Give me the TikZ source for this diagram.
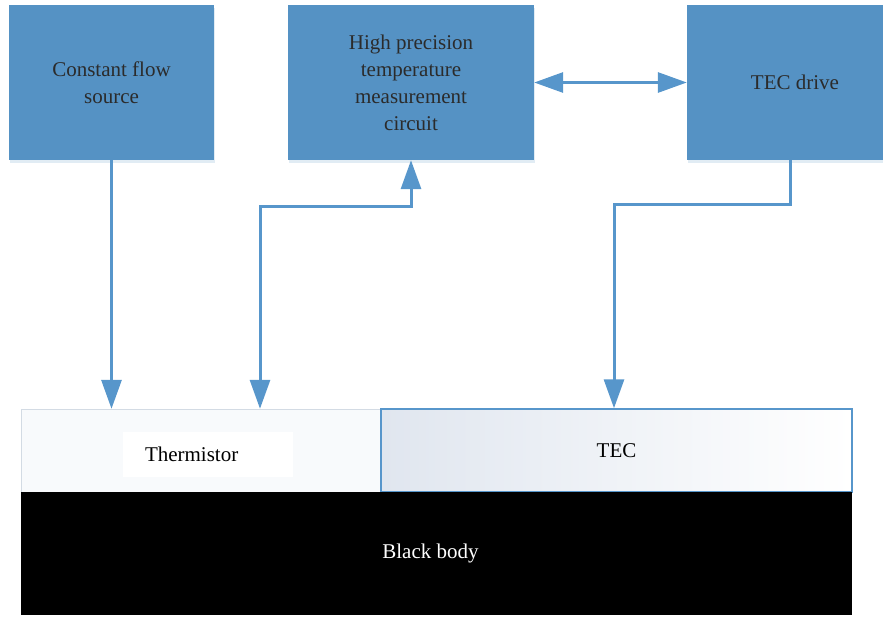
\documentclass[tikz,border=0pt]{standalone}
\usepackage{fontspec}
\setmainfont{Liberation Serif}
\usetikzlibrary{arrows.meta,shadows}
\definecolor{boxblue}{HTML}{5592C4}
\definecolor{lineblue}{HTML}{5796CB}
\definecolor{txtgray}{HTML}{2B2B2B}
\definecolor{tecgray}{HTML}{E0E6EF}
\definecolor{thermfill}{HTML}{F8FAFC}
\definecolor{thermline}{HTML}{D3DBE4}
\tikzset{
	blk/.style={fill=boxblue, text=txtgray, align=center, inner sep=0pt, minimum height=155pt,
		drop shadow={shadow xshift=1pt, shadow yshift=-3pt, fill=boxblue!35, opacity=.5}},
	layer/.style={inner sep=0pt, minimum height=83pt},
	flow/.style={draw=lineblue, line width=3pt},
}
\begin{document}
\begin{tikzpicture}[x=1pt, y=-1pt, font=\fontsize{21}{27}\selectfont, line join=miter, >={Triangle[length=29pt,width=20pt]}]
	\useasboundingbox (0,0) rectangle (883,616);
	% top row
	\node[blk, minimum width=205pt] (cfs) at (111.5,82.5) {Constant flow\\source};
	\node[blk, minimum width=246pt] (hpm) at (411,82.5) {High precision\\temperature\\measurement\\circuit};
	\node[blk, minimum width=206pt] (tecd) at (790,82.5) {\hspace*{10pt}TEC drive};
	% sensor and black body
	\node[layer, draw=thermline, fill=thermfill, minimum width=360pt] (therm) at (201,450.5) {};
	\node[fill=white, inner sep=0pt, minimum width=170pt, minimum height=45pt, text width=126pt, align=left] (thermlbl) at (208,454) {Thermistor};
	\node[layer, draw=lineblue, line width=1.5pt, left color=tecgray, right color=white, minimum width=471pt] (tec) at (616.5,450.5) {\raisebox{-3pt}{TEC}};
	\node[fill=black, text=white, inner sep=0pt, minimum width=831pt, minimum height=123pt] (bb) at (436.5,553.5) {Black body\hspace*{12pt}};
	\path (260,206) coordinate (tp)
		(614,204) coordinate (tc);
	% connectors
	\draw[flow, ->] (cfs.south) -- (cfs.south |- therm.north);
	\draw[flow, <->] (hpm.south) |- (tp) -- (tp |- therm.north);
	\draw[flow, <->] (hpm.east) -- (tecd.west);
	\draw[flow, ->] (tecd.south) |- (tc) -- (tc |- tec.north);
\end{tikzpicture}
\end{document}
